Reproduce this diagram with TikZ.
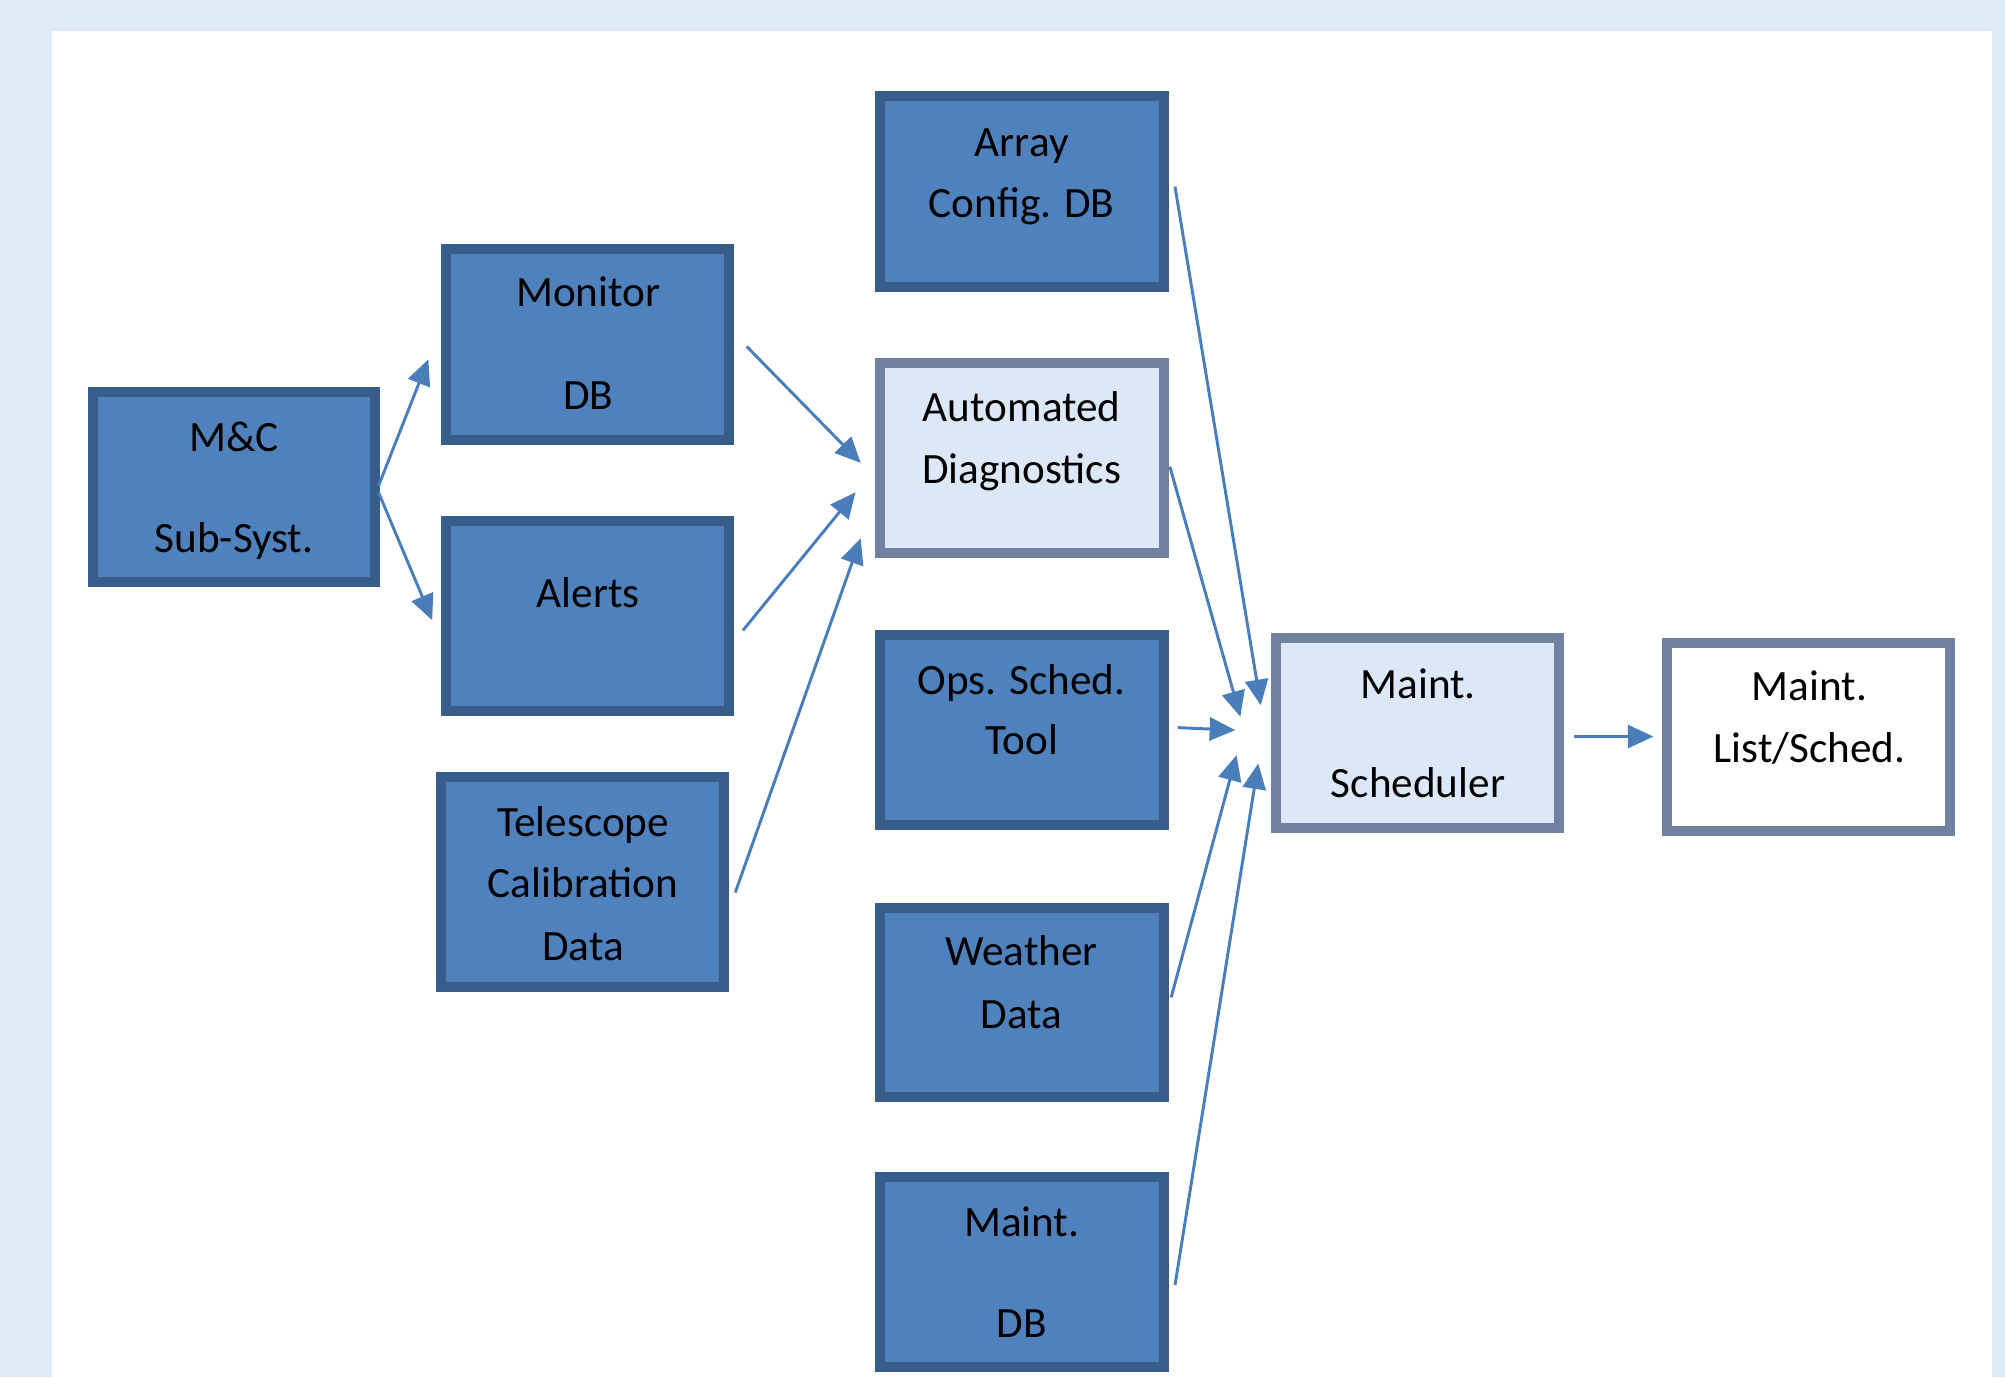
\documentclass[tikz,border=0pt]{standalone}
\usepackage{fontspec}
\setmainfont{Carlito}
\usetikzlibrary{arrows.meta}
\definecolor{bgblue}{HTML}{DEEAF6}
\definecolor{boxfill}{HTML}{4F81BD}
\definecolor{boxline}{HTML}{385D8A}
\definecolor{grayline}{HTML}{7082A0}
\definecolor{lightfill}{HTML}{DCE8F8}
\definecolor{arrcol}{HTML}{4A7EBB}
\begin{document}
\begin{tikzpicture}[x=0.5pt,y=-0.5pt,
  darkbox/.style={rectangle, draw=boxline, fill=boxfill, line width=3.9pt,
    minimum width=111pt, minimum height=74.2pt, inner sep=0pt},
  lightbox/.style={rectangle, draw=grayline, fill=lightfill, line width=3.9pt,
    minimum width=110.6pt, minimum height=74.2pt, inner sep=0pt},
  whitebox/.style={rectangle, draw=grayline, fill=white, line width=3.9pt,
    minimum width=110.6pt, minimum height=73.6pt, inner sep=0pt},
  txt/.style={anchor=base, inner sep=0pt, font=\fontsize{16.9}{20}\selectfont, text=black},
  arr/.style={draw=arrcol, line width=1.15pt, -{Triangle[length=10pt,width=9pt]}, fill=arrcol}
]
\useasboundingbox (0,0) rectangle (1568,1077);
\fill[bgblue] (0,0) rectangle (1568,1077);
\fill[white] (41,24) rectangle (1558,1077);

% boxes
\node[darkbox, minimum width=110.1pt] (mc) at (183,381) {};
\node[darkbox, minimum width=110.6pt, minimum height=74.6pt] (mon) at (459.5,269.5) {};
\node[darkbox, minimum width=110.6pt] (alr) at (459.5,482) {};
\node[darkbox, minimum width=110.6pt, minimum height=82.1pt] (tel) at (455.5,690) {};
\node[darkbox, minimum height=74.6pt] (arr) at (799,149.5) {};
\node[lightbox, minimum width=111pt] (dia) at (799,358) {};
\node[darkbox] (ops) at (799,571) {};
\node[darkbox] (wea) at (799,784) {};
\node[darkbox] (mdb) at (799,995) {};
\node[lightbox] (sch) at (1108.5,573) {};
\node[whitebox] (lst) at (1414.5,576.5) {};

% texts
\node[txt] (mcA) at (183,353) {M\&C};
\node[txt] (mcB) at (183,432) {Sub-Syst.};
\node[txt] (monA) at (460,240) {Monitor};
\node[txt] (monB) at (460,320) {DB};
\node[txt] (alrA) at (460,475) {Alerts};
\node[txt] (telA) at (456,654) {Telescope};
\node[txt] (telB) at (456,702) {Calibration};
\node[txt] (telC) at (456,751) {Data};
\node[txt] (arrA) at (799,122) {Array};
\node[txt] (arrB) at (799,170) {Config. DB};
\node[txt] (diaA) at (799,330) {Automated};
\node[txt] (diaB) at (799,378) {Diagnostics};
\node[txt] (opsA) at (799,543) {Ops. Sched.};
\node[txt] (opsB) at (799,590) {Tool};
\node[txt] (weaA) at (799,755) {Weather};
\node[txt] (weaB) at (799,804) {Data};
\node[txt] (mdbA) at (799,967) {Maint.};
\node[txt] (mdbB) at (799,1046) {DB};
\node[txt] (schA) at (1109,546) {Maint.};
\node[txt] (schB) at (1109,624) {Scheduler};
\node[txt] (lstA) at (1415,548) {Maint.};
\node[txt] (lstB) at (1415,596) {List/Sched.};

% connectors
\draw[arr] ([shift={(-1,-1)}]mc.east) -- ([shift={(-10,11.5)}]mon.west);
\draw[arr] ([shift={(-1,4)}]mc.east) -- ([shift={(-7,3)}]alr.west);
\draw[arr] ([shift={(10,1.5)}]mon.east) -- ([shift={(-11,4)}]dia.west);
\draw[arr] ([shift={(7,11)}]alr.east) -- ([shift={(-15,27)}]dia.west);
\draw[arr] ([shift={(5,8)}]tel.east) -- ([shift={(-11,63)}]dia.west);
\draw[arr] ([shift={(5,-3.5)}]arr.east) -- ([shift={(-8,-21.5)}]sch.west);
\draw[arr] ([shift={(1,7)}]dia.east) -- ([shift={(-24,-12.5)}]sch.west);
\draw[arr] ([shift={(7,-2)}]ops.east) -- ([shift={(-28,-2)}]sch.west);
\draw[arr] ([shift={(2,-4)}]wea.east) -- ([shift={(-27,17.5)}]sch.west);
\draw[arr] ([shift={(5,10)}]mdb.east) -- ([shift={(-10,24)}]sch.west);
\draw[arr] ([shift={(8,3)}]sch.east) -- ([shift={(-7,-0.5)}]lst.west);
\end{tikzpicture}
\end{document}
